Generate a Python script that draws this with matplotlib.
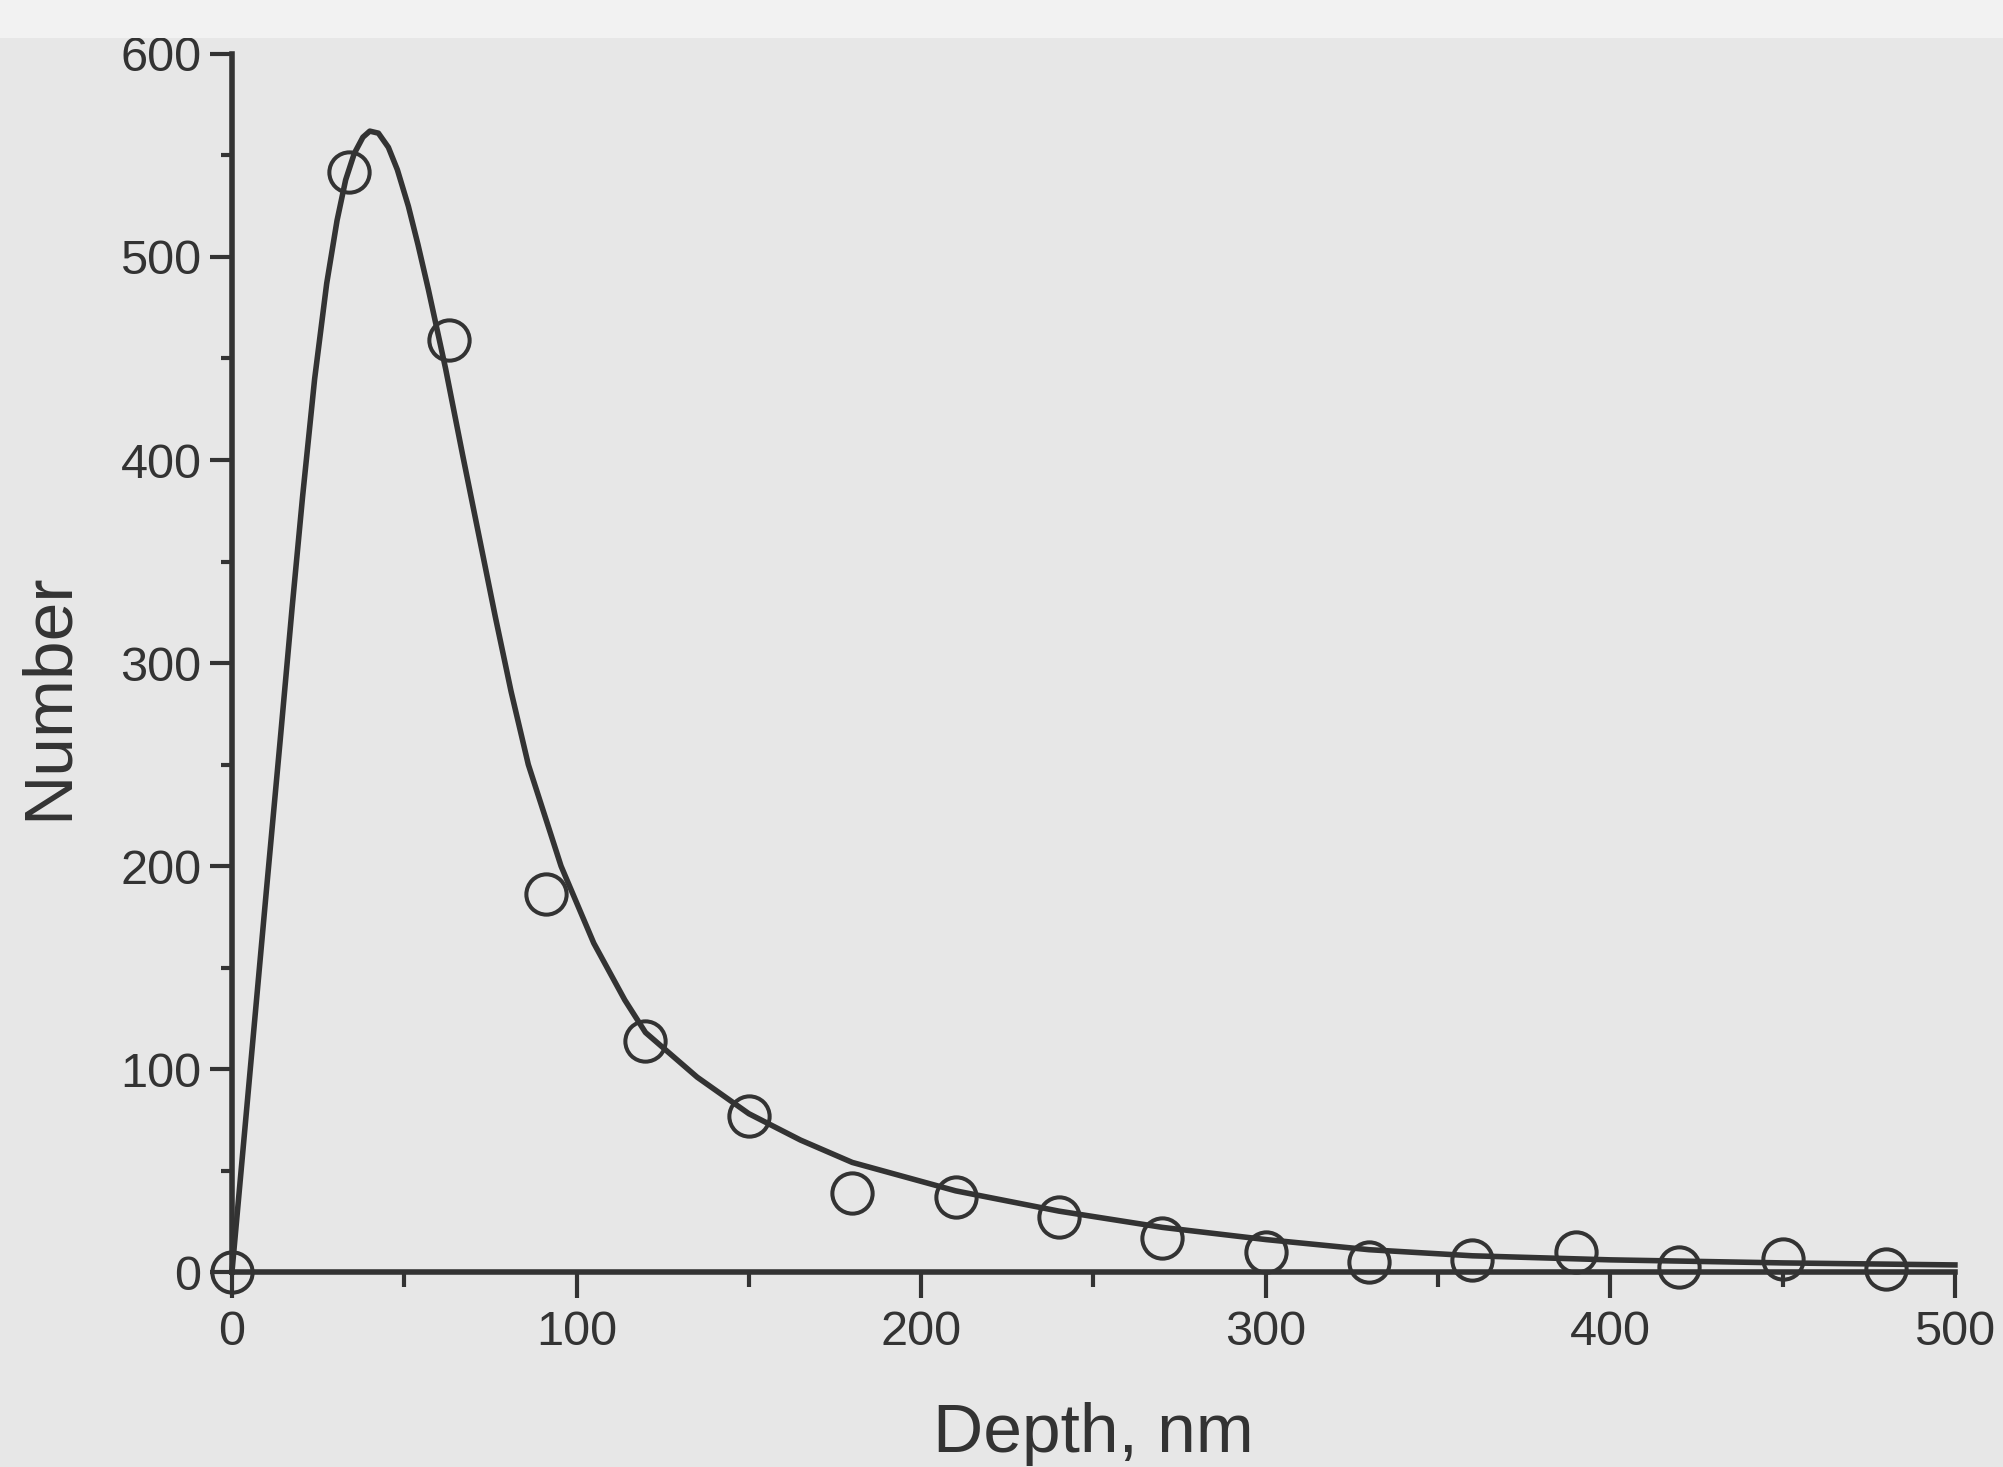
"""
Depth profile: measured counts and fitted curve
"""

import matplotlib
matplotlib.use('Agg')
import matplotlib.pyplot as plt
from matplotlib.patches import Rectangle
from matplotlib.ticker import MultipleLocator

plt.rcParams['font.family'] = ['Liberation Sans', 'DejaVu Sans']

depth = [0, 34, 63, 91, 120, 150, 180, 210, 240, 270, 300, 330, 360, 390, 420, 450, 480]
number = [0, 542, 459, 186, 114, 77, 39, 37, 27, 17, 10, 5, 6, 10, 2.5, 6.4, 1.5]

# fitted curve, traced point by point
fit_depth = [0, 5, 10, 14, 17.5, 20.5, 24, 27.5, 30.5, 33, 35.5, 38, 40, 42.5,
             45.4, 48, 51.2, 54, 57, 62, 67, 72, 76.4, 81, 86, 95.5, 105,
             114, 120, 135, 150, 165, 180, 210, 240, 270, 300, 330, 360, 400,
             450, 500]
fit_number = [0, 94, 188, 262, 328, 382, 440, 487, 518, 538, 551, 559, 562, 561,
              554, 543, 525, 506, 484, 445, 402, 360, 323, 286, 250, 200, 162,
              134, 118, 96, 78, 65, 54, 40, 30, 22, 16, 11, 8, 6,
              4.5, 3.5]

ink = '#333333'

fig = plt.figure(figsize=(20.03, 14.67), dpi=100, facecolor='#e7e7e7')
# lighter strip at the top of the scan
fig.patches.append(Rectangle((0, 0.974), 1, 0.026, transform=fig.transFigure,
                             facecolor='#f2f2f2', edgecolor='none', zorder=0))

ax = fig.add_axes([0.1158, 0.1329, 0.8602, 0.8303])
ax.set_facecolor('none')

ax.plot(fit_depth, fit_number, color=ink, lw=4, zorder=2, clip_on=False,
        solid_joinstyle='round')
ax.plot(depth, number, 'o', ms=29, mfc='none', mec=ink, mew=2.9, zorder=3, clip_on=False)

ax.set_xlim(0, 500)
ax.set_ylim(0, 600)
ax.xaxis.set_major_locator(MultipleLocator(100))
ax.xaxis.set_minor_locator(MultipleLocator(50))
ax.yaxis.set_major_locator(MultipleLocator(100))
ax.yaxis.set_minor_locator(MultipleLocator(50))

for s in ['top', 'right']:
    ax.spines[s].set_visible(False)
for s in ['left', 'bottom']:
    ax.spines[s].set_linewidth(4)
    ax.spines[s].set_color(ink)

ax.tick_params(axis='x', which='major', length=19, width=3, color=ink, pad=8,
               labelsize=35, labelcolor=ink)
ax.tick_params(axis='x', which='minor', length=11, width=3, color=ink)
ax.tick_params(axis='y', which='major', length=16, width=3, color=ink, pad=6,
               labelsize=35, labelcolor=ink)
ax.tick_params(axis='y', which='minor', length=8, width=3, color=ink)

ax.set_xlabel('Depth, nm', fontsize=50, color=ink, labelpad=34)
ax.set_ylabel('Number', fontsize=50, color=ink)
ax.yaxis.set_label_coords(-0.088, 0.473)

plt.savefig('out.png', dpi=100, facecolor=fig.get_facecolor())
